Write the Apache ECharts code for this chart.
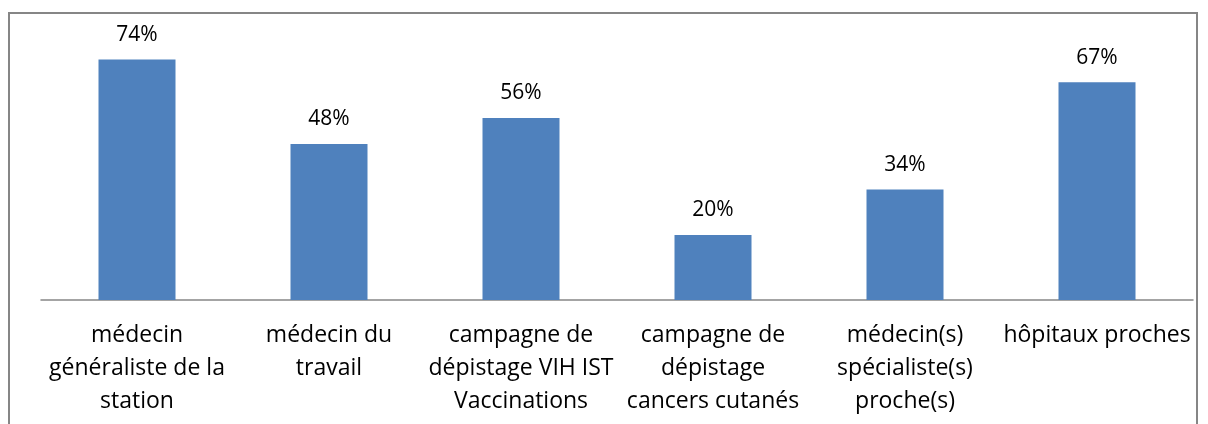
<!DOCTYPE html>
<html>
<head>
<meta charset="UTF-8">
<title>Bar chart</title>
<script src="https://cdn.jsdelivr.net/npm/echarts@6/dist/echarts.min.js"></script>
<style>
  html, body { margin: 0; padding: 0; background: #fff; }
  #frame { position: absolute; left: 8px; top: 12px; width: 1190px; height: 430px; border: 2px solid #868686; box-sizing: border-box; }
  #main { position: absolute; left: 0; top: 0; width: 1208px; height: 424px; }
</style>
</head>
<body>
<div id="frame"></div>
<div id="main"></div>
<script>
// categories (line breaks as in the original)
var categories = [
  'médecin\ngénéraliste de la\nstation',
  'médecin du\ntravail',
  'campagne de\ndépistage VIH IST\nVaccinations',
  'campagne de\ndépistage\ncancers cutanés',
  'médecin(s)\nspécialiste(s)\nproche(s)',
  'hôpitaux proches'
];
// share of respondents, %
var values = [74, 48, 56, 20, 34, 67];

var chart = echarts.init(document.getElementById('main'));
chart.setOption({
  animation: false,
  grid: { left: 41, right: 15, top: 40, bottom: 124 },
  xAxis: {
    type: 'category',
    data: categories,
    axisLine: { lineStyle: { color: '#868686', width: 1.5 } },
    axisTick: { show: false },
    axisLabel: {
      interval: 0,
      margin: 19,
      color: '#000',
      fontFamily: 'Open Sans',
      fontSize: 23,
      lineHeight: 33
    }
  },
  yAxis: {
    type: 'value',
    min: 0,
    max: 80,
    show: false,
    splitLine: { show: false }
  },
  series: [{
    type: 'bar',
    data: values,
    barWidth: 77,
    itemStyle: { color: '#4F81BD' },
    label: {
      show: true,
      position: 'top',
      distance: 14,
      formatter: '{c}%',
      color: '#000',
      fontFamily: 'Open Sans',
      fontSize: 21
    }
  }]
});
</script>
</body>
</html>
